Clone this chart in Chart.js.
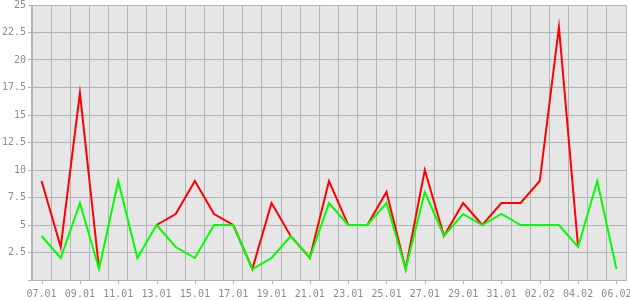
<!DOCTYPE html>
<html>
<head>
<meta charset="utf-8">
<script src="https://cdn.jsdelivr.net/npm/chart.js@4"></script>
<style>
  html, body { margin: 0; padding: 0; background: #fff; }
  #wrap { width: 630px; height: 300px; }
</style>
</head>
<body>
<div id="wrap"><canvas id="chart" width="630" height="300"></canvas></div>
<script>
const days = ['07.01','08.01','09.01','10.01','11.01','12.01','13.01','14.01','15.01','16.01',
  '17.01','18.01','19.01','20.01','21.01','22.01','23.01','24.01','25.01','26.01',
  '27.01','28.01','29.01','30.01','31.01','01.02','02.02','03.02','04.02','05.02','06.02'];
const redValues = [9,3,17,1,null,null,5,6,9,6,5,1,7,4,2,9,5,5,8,1,10,4,7,5,7,7,9,23,3,null,null];
const greenValues = [4,2,7,1,9,2,5,3,2,5,5,1,2,4,2,7,5,5,7,1,8,4,6,5,6,5,5,5,3,9,1];
const yTicks = [2.5,5,7.5,10,12.5,15,17.5,20,22.5,25];

const gridColor = '#b4b4b4';
const textColor = '#8c8c8c';
const font = { family: "'DejaVu Sans Mono', monospace", size: 10 };

// grey plot background + small ticks under the labelled days
const plotDecor = {
  id: 'plotDecor',
  beforeDraw(chart) {
    const { ctx, chartArea: a } = chart;
    ctx.save();
    ctx.fillStyle = '#e6e6e6';
    ctx.fillRect(a.left, a.top, a.right - a.left, a.bottom - a.top);
    ctx.restore();
  },
  afterDraw(chart) {
    const { ctx, chartArea: a } = chart;
    const x = chart.scales.x;
    ctx.save();
    ctx.strokeStyle = gridColor;
    ctx.lineWidth = 1;
    days.forEach((d, i) => {
      if (i % 2) return;
      const px = Math.round(x.getPixelForValue(i)) + 0.5;
      ctx.beginPath();
      ctx.moveTo(px, a.bottom);
      ctx.lineTo(px, a.bottom + 4);
      ctx.stroke();
    });
    ctx.restore();
  }
};

new Chart(document.getElementById('chart'), {
  type: 'line',
  data: {
    labels: days,
    datasets: [
      { data: redValues, borderColor: '#ff0000', borderWidth: 2, pointRadius: 0, tension: 0, spanGaps: false, order: 1 },
      { data: greenValues, borderColor: '#00ff00', borderWidth: 2, pointRadius: 0, tension: 0, order: 0 }
    ]
  },
  options: {
    responsive: false,
    animation: false,
    layout: { padding: { top: 5, right: 4, left: 0, bottom: 0 } },
    plugins: { legend: { display: false }, tooltip: { enabled: false } },
    scales: {
      x: {
        offset: true,
        grid: { offset: true, color: gridColor, drawTicks: false },
        border: { color: gridColor },
        ticks: {
          autoSkip: false, maxRotation: 0, padding: 8, color: textColor, font,
          callback: (v, i) => (i % 2 === 0 ? days[i] : '')
        },
        afterFit: s => { s.height = 20; s.paddingLeft = 0; s.paddingRight = 0; }
      },
      y: {
        min: 0, max: 25,
        grid: { color: gridColor, tickLength: 4 },
        border: { color: gridColor },
        afterBuildTicks: s => { s.ticks = [0].concat(yTicks).map(v => ({ value: v })); },
        ticks: {
          padding: 2, color: textColor, font,
          callback: v => (v === 0 ? '' : String(v))
        },
        afterFit: s => { s.width = 32; s.paddingTop = 0; s.paddingBottom = 0; }
      }
    }
  },
  plugins: [plotDecor]
});
</script>
</body>
</html>
